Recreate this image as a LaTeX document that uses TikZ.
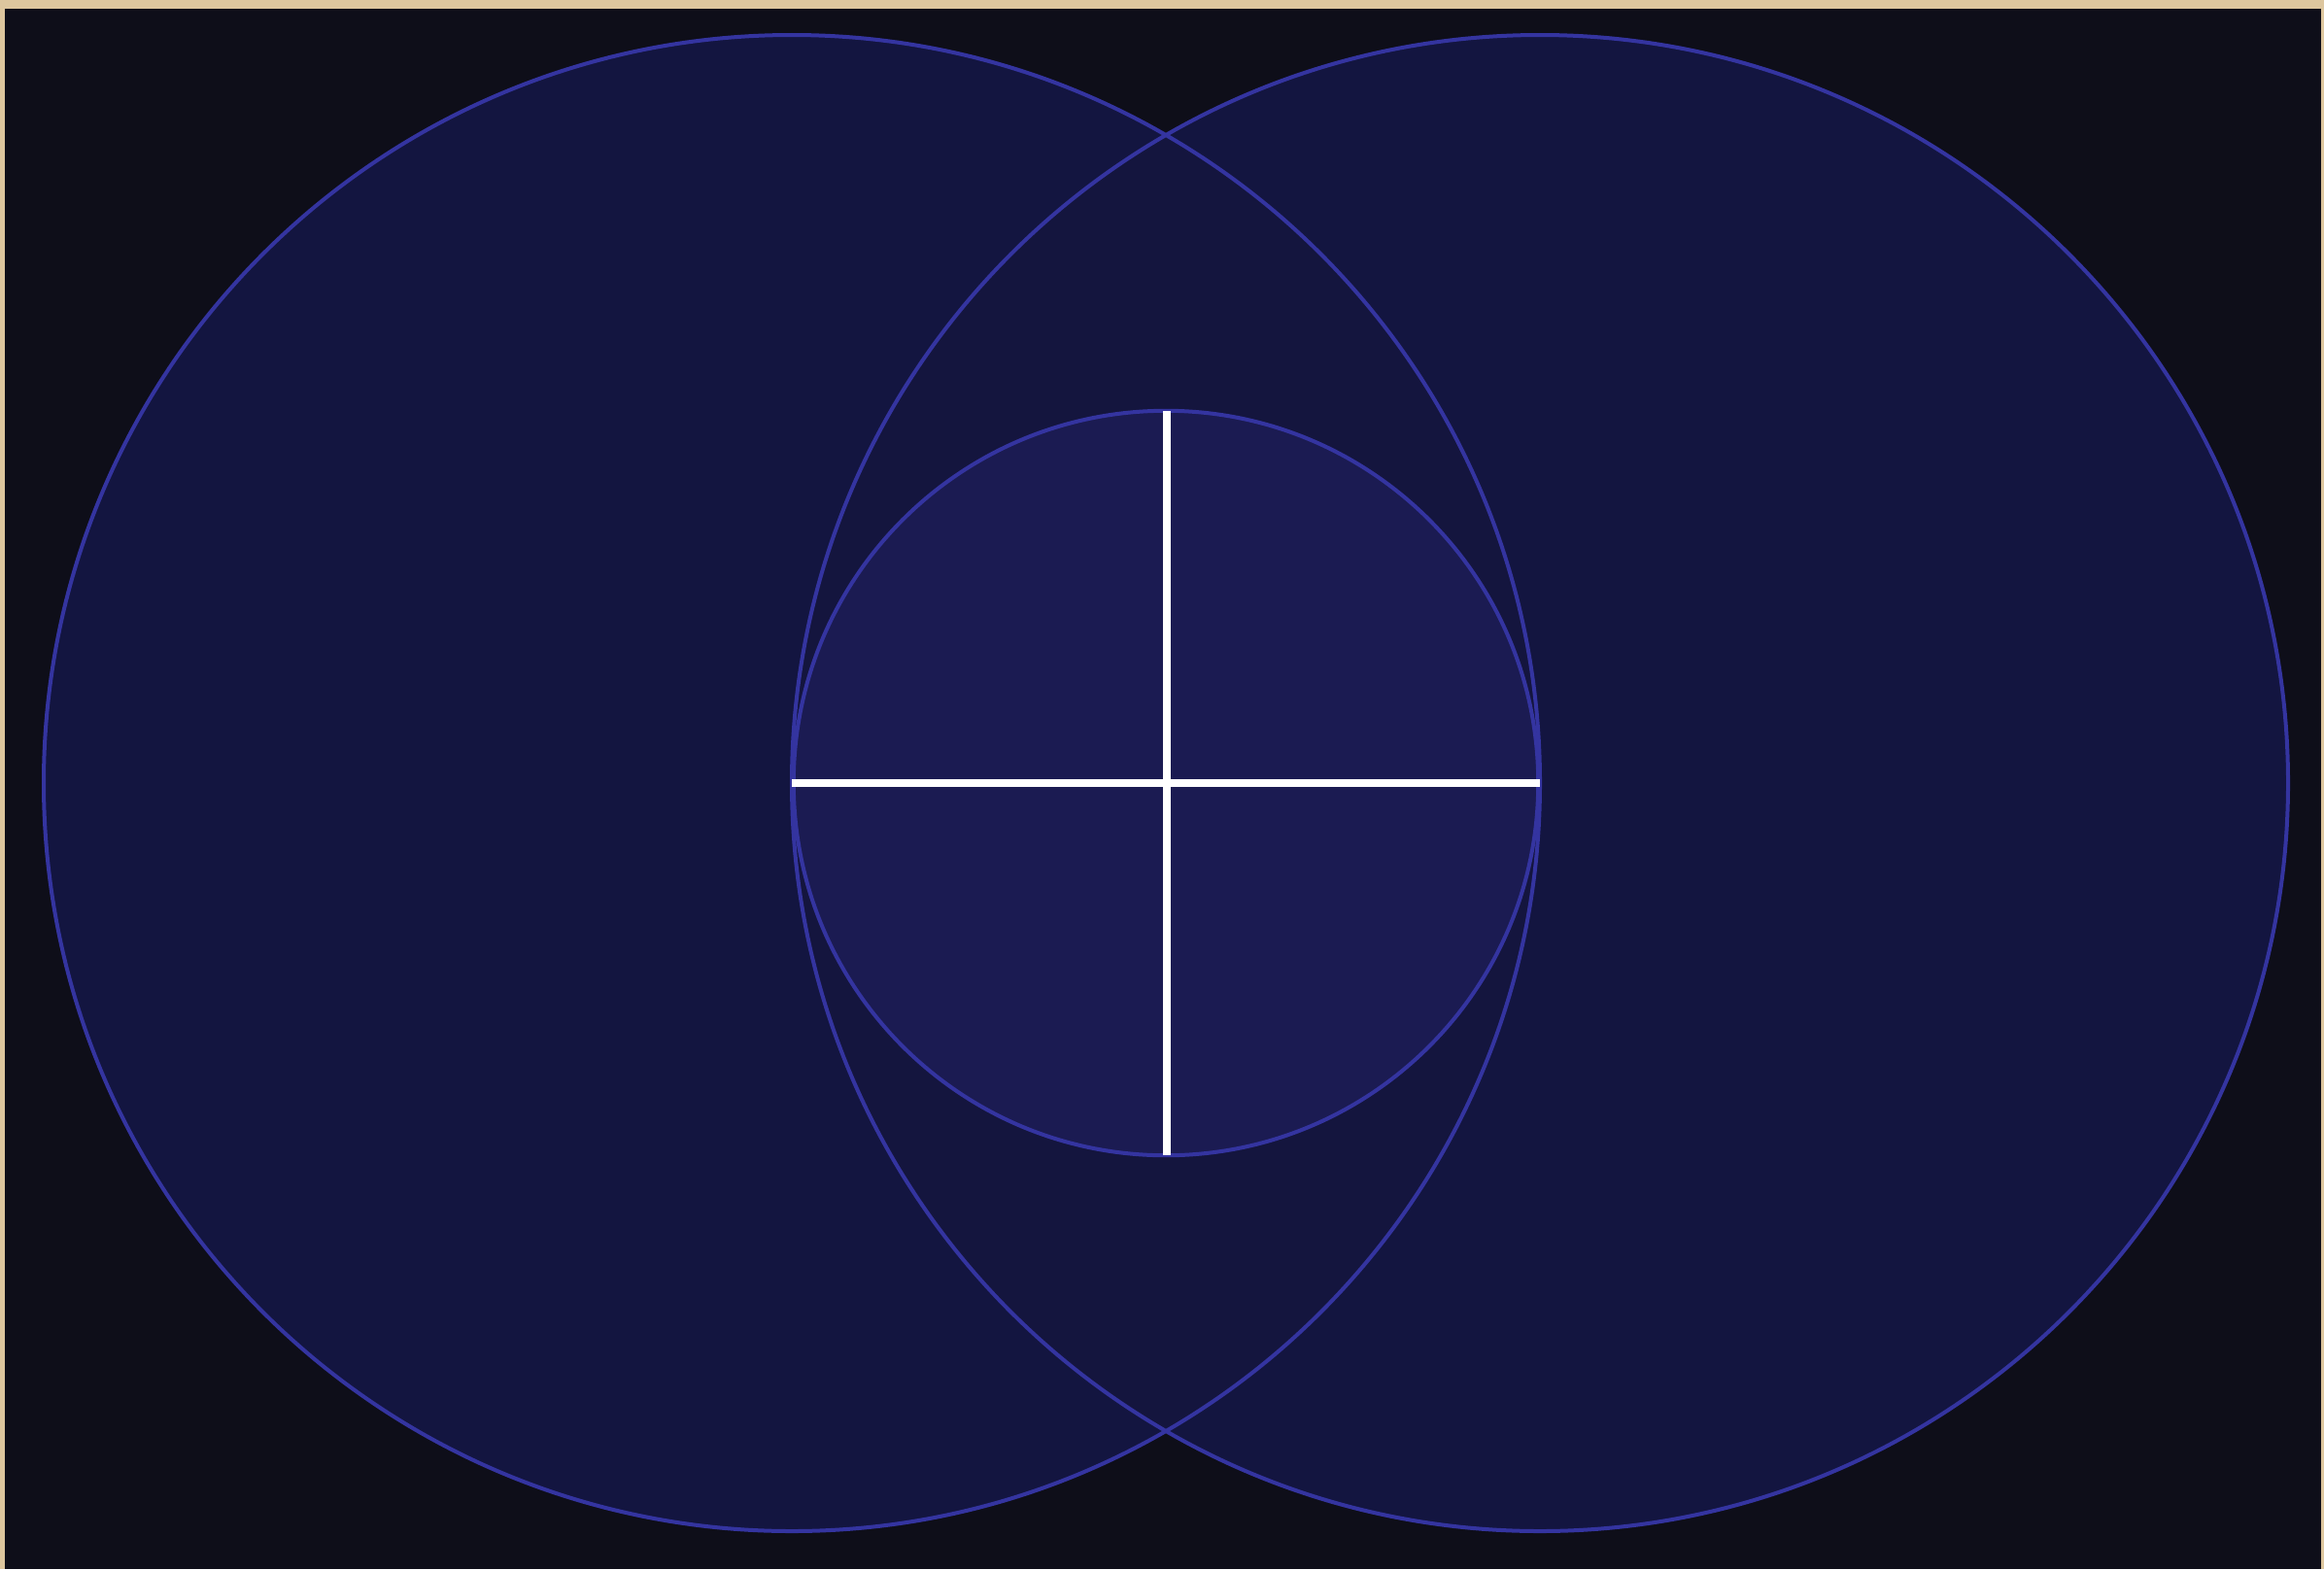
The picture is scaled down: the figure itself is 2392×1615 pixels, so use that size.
\documentclass[tikz,border=0pt]{standalone}
\begin{document}
\begin{tikzpicture}[x=0.01cm,y=-0.01cm,
  frame/.style={fill=beige},
  bigc/.style={draw=ring, line width=0.04cm, fill=bigfill},
  smallc/.style={draw=ring, line width=0.04cm, fill=smallfill},
  axis/.style={draw=white, line width=0.085cm}]
\definecolor{beige}{RGB}{221,198,158}
\definecolor{bg}{RGB}{14,14,25}
\definecolor{bigfill}{RGB}{19,21,64}
\definecolor{overfill}{RGB}{20,21,62}
\definecolor{smallfill}{RGB}{27,27,82}
\definecolor{ring}{RGB}{52,52,160}
\useasboundingbox (0,0) rectangle (2392,1615);
\fill[beige] (0,0) rectangle (2392,1615);
\fill[bg] (5,9) rectangle (2389,1615);
\fill[bigfill] (815,806) circle (770);
\fill[bigfill] (1585,806) circle (770);
\begin{scope}
\clip (815,806) circle (770);
\fill[overfill] (1585,806) circle (770);
\end{scope}
\draw[draw=ring, line width=0.04cm] (815,806) circle (770);
\draw[draw=ring, line width=0.04cm] (1585,806) circle (770);
\node[circle, smallc, minimum size=7.66cm, inner sep=0pt, outer sep=0pt] (s) at (1200,806) {};
\coordinate (l) at (815,806);
\coordinate (r) at (1585,806);
\coordinate (t) at (1201,423);
\coordinate (b) at (1201,1189);
\draw[axis] (l) -- (r);
\draw[axis] (t) -- (b);
\end{tikzpicture}
\end{document}
